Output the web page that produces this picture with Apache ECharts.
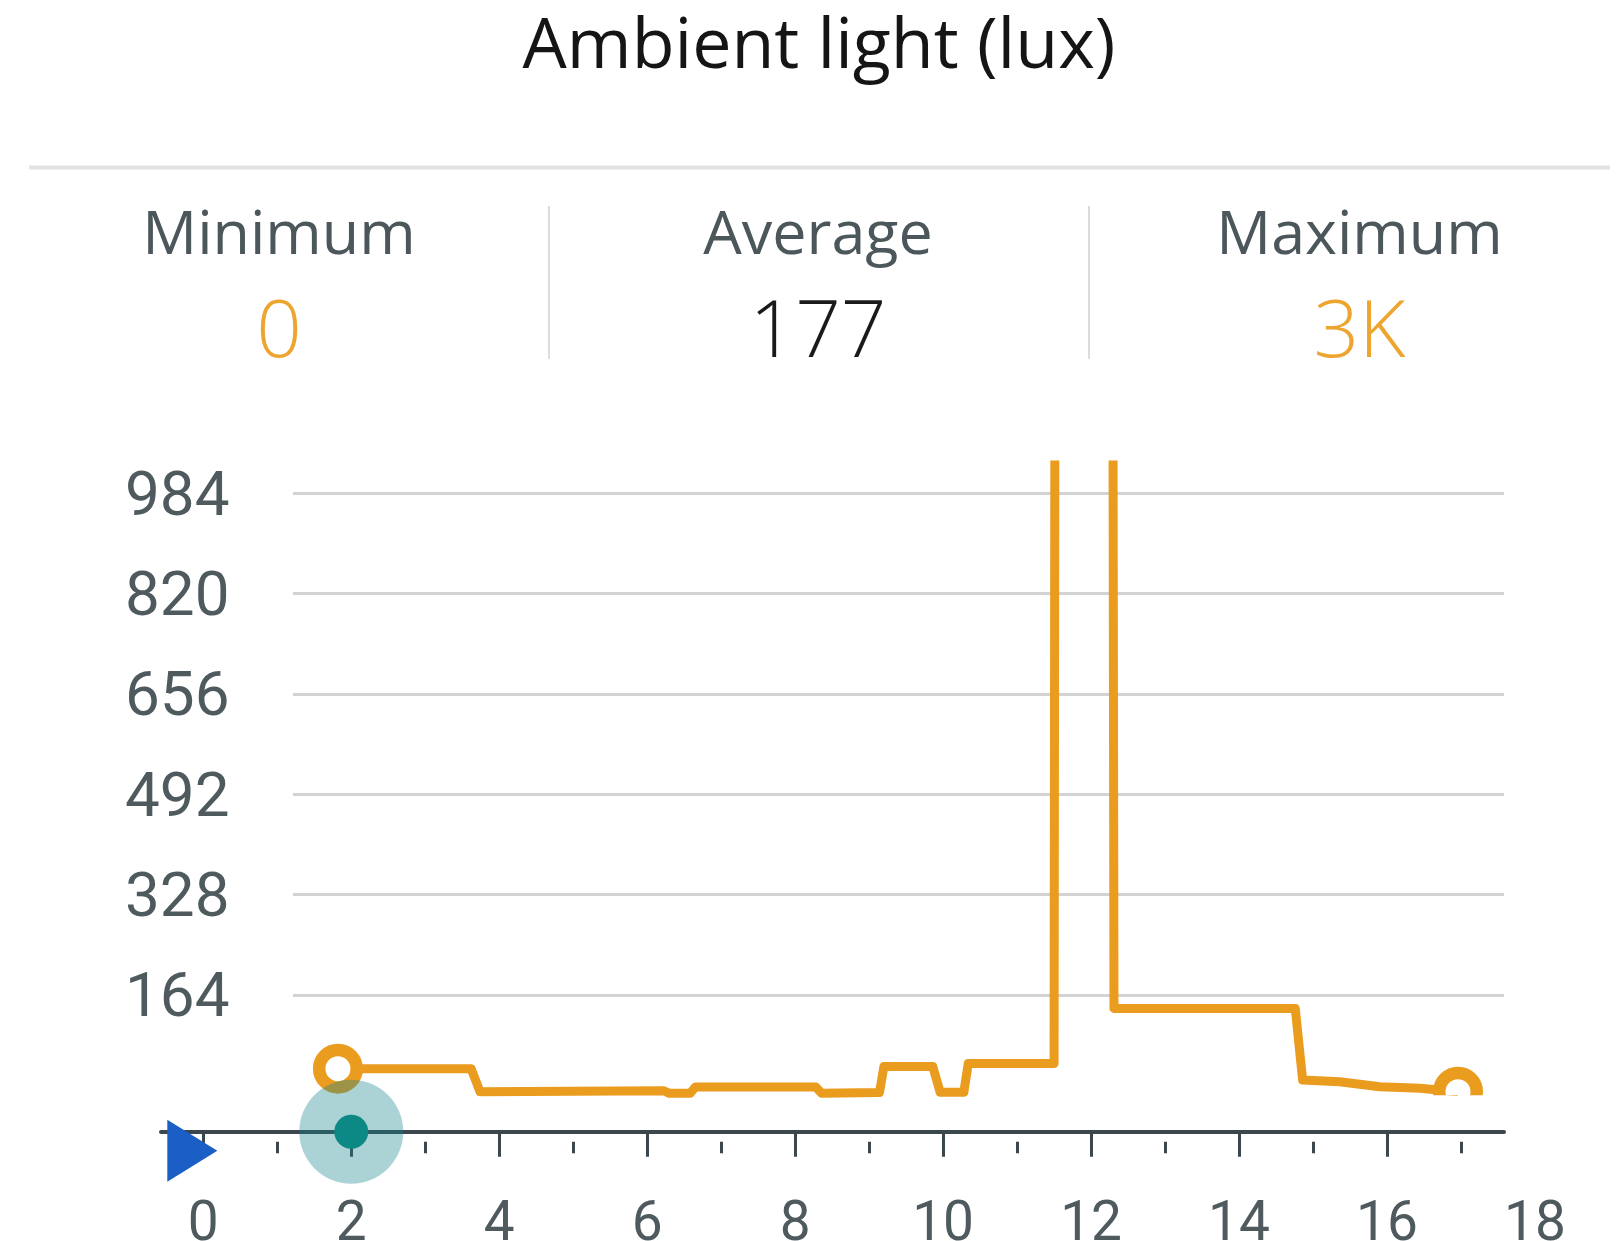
<!DOCTYPE html>
<html><head><meta charset="utf-8">
<script src="https://cdn.jsdelivr.net/npm/echarts@6/dist/echarts.min.js"></script>
<style>html,body{margin:0;padding:0;background:#fff}#c{width:1618px;height:1241px}</style>
</head><body><div id="c"></div>
<script>
// ---- data ----
const titleText = 'Ambient light (lux)';
const statLabels = ['Minimum', 'Average', 'Maximum'];
const statValues = ['0', '177', '3K'];
const yTickInterval = 164;   // y labels: 164, 328, 492, 656, 820, 984
const xTickLabels = [0, 2, 4, 6, 8, 10, 12, 14, 16, 18];
const xMajorTicks = [0, 2, 4, 6, 8, 10, 12, 14, 16];
const xMinorTicks = [1, 3, 5, 7, 9, 11, 13, 15, 17];
const timeX = [1.82, 3.62, 3.74, 6.22, 6.30, 6.58, 6.65, 8.28, 8.36, 9.14, 9.20, 9.86, 9.96, 10.28, 10.34, 11.50, 11.53, 12.27, 12.31, 14.76, 14.86, 15.36, 15.90, 16.45, 16.66, 16.96];
const luxY  = [43.5, 43.5, 6, 7.5, 3.3, 3.3, 13.5, 13.5, 3.3, 4.5, 47, 47, 5, 5, 52, 52, 3000, 3000, 142, 142, 25, 22, 14, 11.5, 9, 6];
const cursorTime = 2;
const playheadTime = 0;

// ---- layout / style ----
const W = 1618, H = 1241;
const X0 = 203.3, XU = 73.98;          // pixel of t=0, px per unit
const plotLeft = 293, plotRight = 1504, plotTop = 465, zeroY = 1095.3;
const axisY = 1131.7, axisLeft = 161;
const ORANGE = '#E99C1E', ORANGE_TXT = '#EDA530', SLATE = '#3b474d', LABEL = '#4f5a5f';

const linePts = timeX.map((t, i) => [t, luxY[i]]);
const endPts = [linePts[0], linePts[linePts.length - 1]];

const chart = echarts.init(document.getElementById('c'), null, {renderer: 'canvas'});

const statX = [279, 818, 1359.5];
const graphics = [
  {type: 'text', x: 819, y: 48, style: {text: titleText, fontSize: 70, fontFamily: 'Open Sans', fill: '#151515', align: 'center', verticalAlign: 'middle'}},
  {type: 'line', shape: {x1: 29, y1: 167.5, x2: 1610, y2: 167.5}, style: {stroke: '#e2e2e2', lineWidth: 4}},
  {type: 'line', shape: {x1: 549, y1: 206, x2: 549, y2: 359}, style: {stroke: '#dcdcdc', lineWidth: 2}},
  {type: 'line', shape: {x1: 1089, y1: 206, x2: 1089, y2: 359}, style: {stroke: '#dcdcdc', lineWidth: 2}}
];
statLabels.forEach((s, i) => graphics.push({type: 'text', x: statX[i], y: 237, style: {text: s, fontSize: 61, fontFamily: 'Open Sans', fill: '#4c575b', align: 'center', verticalAlign: 'middle'}}));
statValues.forEach((s, i) => graphics.push({type: 'text', x: statX[i], y: 334, style: {text: s, fontSize: 80, fontWeight: 300, fontFamily: 'Open Sans', fill: i === 1 ? '#1a1a1a' : ORANGE_TXT, align: 'center', verticalAlign: 'middle'}}));

const option = {
  animation: false,
  backgroundColor: '#fff',
  graphic: graphics,
  grid: [
    {left: plotLeft, right: W - plotRight, top: plotTop, bottom: H - zeroY, outerBoundsMode: 'none'},
    {left: axisLeft, right: W - plotRight, top: plotTop, bottom: H - axisY, outerBoundsMode: 'none'},
    {left: X0, right: W - (X0 + 18 * XU), top: plotTop, bottom: H - axisY, outerBoundsMode: 'none'}
  ],
  xAxis: [
    {gridIndex: 0, type: 'value', min: (plotLeft - X0) / XU, max: (plotRight - X0) / XU, show: false},
    {gridIndex: 1, type: 'value', position: 'bottom', min: (axisLeft - X0) / XU, max: (plotRight - X0) / XU,
      axisLine: {show: true, lineStyle: {color: SLATE, width: 4}}, axisTick: {show: false}, axisLabel: {show: false}, splitLine: {show: false}},
    {gridIndex: 2, type: 'value', position: 'bottom', min: 0, max: 18, interval: 2, offset: 10,
      axisLine: {show: false},
      axisTick: {show: true, customValues: xMajorTicks, length: 25, lineStyle: {color: SLATE, width: 3}},
      axisLabel: {show: true, customValues: xTickLabels, fontSize: 55, fontFamily: 'Roboto', color: LABEL, margin: 57},
      splitLine: {show: false}},
    {gridIndex: 2, type: 'value', position: 'bottom', min: 0, max: 18, interval: 2, offset: 10,
      axisLine: {show: false},
      axisTick: {show: true, customValues: xMinorTicks, length: 11.6, lineStyle: {color: SLATE, width: 3}},
      axisLabel: {show: false}, splitLine: {show: false}}
  ],
  yAxis: [
    {gridIndex: 0, type: 'value', min: 0, max: 1030, interval: yTickInterval,
      axisLine: {show: false}, axisTick: {show: false},
      axisLabel: {margin: 63.5, showMinLabel: false, showMaxLabel: false,
        formatter: v => '{n|' + v + '}',
        rich: {n: {fontSize: 62, fontFamily: 'Roboto', color: LABEL, padding: [12, 0, 0, 0]}}},
      splitLine: {show: true, showMinLine: false, showMaxLine: false, lineStyle: {color: '#d3d3d3', width: 3}}},
    {gridIndex: 1, type: 'value', min: 0, max: 1, show: false},
    {gridIndex: 2, type: 'value', min: 0, max: 1, show: false}
  ],
  series: [
    {type: 'line', xAxisIndex: 0, yAxisIndex: 0, data: linePts, showSymbol: false, clip: true, z: 3,
      lineStyle: {color: ORANGE, width: 9, join: 'round'}},
    {type: 'custom', xAxisIndex: 0, yAxisIndex: 0, data: endPts, clip: true, z: 4,
      renderItem: function (params, api) {
        const p = api.coord([api.value(0), api.value(1)]);
        return {type: 'circle', shape: {cx: p[0], cy: p[1], r: 18.75}, style: {fill: '#fff', stroke: ORANGE, lineWidth: 12.5}};
      }},
    {type: 'scatter', xAxisIndex: 2, yAxisIndex: 2, data: [[cursorTime, 0]], symbolSize: 104, clip: false, z: 5, silent: true,
      itemStyle: {color: 'rgba(22,132,140,0.36)', opacity: 1}},
    {type: 'scatter', xAxisIndex: 2, yAxisIndex: 2, data: [[cursorTime, 0]], symbolSize: 34, clip: false, z: 6, silent: true,
      itemStyle: {color: '#0c8984', opacity: 1}},
    {type: 'scatter', xAxisIndex: 2, yAxisIndex: 2, data: [[playheadTime, 0]], symbol: 'triangle', symbolSize: [62, 50], symbolRotate: -90,
      symbolOffset: [-11, 19], clip: false, z: 6, silent: true, itemStyle: {color: '#1a5ec6', opacity: 1}}
  ]
};
chart.setOption(option);
</script>
</body></html>
